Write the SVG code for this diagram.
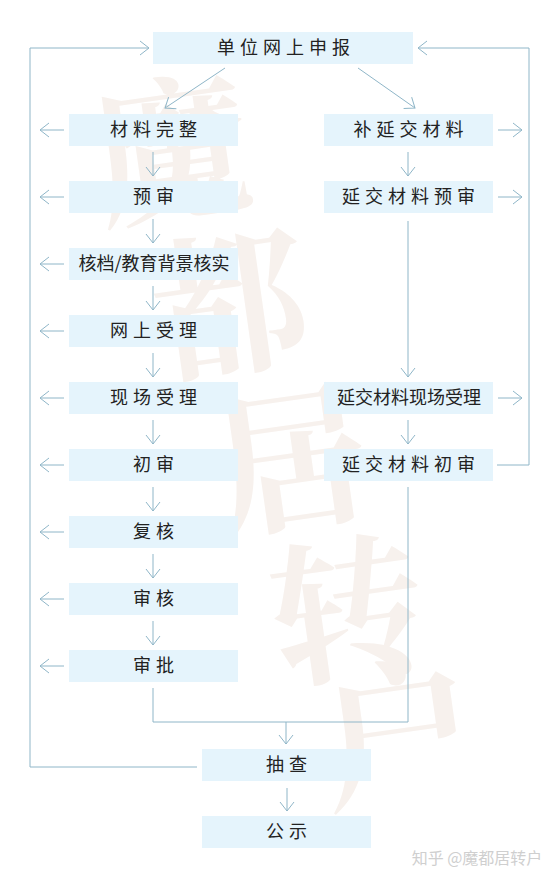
<svg xmlns="http://www.w3.org/2000/svg" width="557" height="882" viewBox="0 0 557 882">
<style>
.box{fill:#e5f4fc}
.t{font-family:"Noto Sans CJK SC","Noto Sans",sans-serif;font-size:18px;fill:#222;text-anchor:middle}
.sp{letter-spacing:5px}
.c path{fill:none;stroke:#8fb6c8;stroke-width:1}
.wm{font-family:"Noto Serif CJK SC","Noto Sans CJK SC",serif;font-size:155px;fill:#f7f1ed;font-weight:700}
</style>
<defs>
<marker id="ah" markerUnits="userSpaceOnUse" viewBox="-10 -8 12 16" refX="0" refY="0" markerWidth="12" markerHeight="16" orient="auto">
<path d="M-9,-7 L0,0 L-9,7" fill="none" stroke="#8fb6c8" stroke-width="1"/>
</marker>
</defs>
<rect width="557" height="882" fill="#fff"/>
<g id="watermark">
<text class="wm" x="92" y="208" transform="rotate(-8 170 140)">魔</text>
<text class="wm" x="152" y="362" transform="rotate(-8 230 300)">都</text>
<text class="wm" x="212" y="518" transform="rotate(-8 290 450)">居</text>
<text class="wm" x="268" y="668" transform="rotate(-8 345 600)">转</text>
<text class="wm" x="318" y="792" transform="rotate(-8 395 730)">户</text>
</g>
<g class="c" id="connectors">
<path d="M197,767 H30 V48 H149" marker-end="url(#ah)"/>
<path d="M497,465 H529 V48 H418" marker-end="url(#ah)"/>
<path d="M225,68 L165,108" marker-end="url(#ah)"/>
<path d="M358,68 L415,108" marker-end="url(#ah)"/>
<path d="M64,130 H40" marker-end="url(#ah)"/>
<path d="M64,197 H40" marker-end="url(#ah)"/>
<path d="M64,264 H40" marker-end="url(#ah)"/>
<path d="M64,331 H40" marker-end="url(#ah)"/>
<path d="M64,398 H40" marker-end="url(#ah)"/>
<path d="M64,465 H40" marker-end="url(#ah)"/>
<path d="M64,532 H40" marker-end="url(#ah)"/>
<path d="M64,599 H40" marker-end="url(#ah)"/>
<path d="M64,666 H40" marker-end="url(#ah)"/>
<path d="M153,152 V176" marker-end="url(#ah)"/>
<path d="M153,219 V243" marker-end="url(#ah)"/>
<path d="M153,286 V310" marker-end="url(#ah)"/>
<path d="M153,353 V377" marker-end="url(#ah)"/>
<path d="M153,420 V444" marker-end="url(#ah)"/>
<path d="M153,487 V511" marker-end="url(#ah)"/>
<path d="M153,554 V578" marker-end="url(#ah)"/>
<path d="M153,621 V645" marker-end="url(#ah)"/>
<path d="M498,130 H522" marker-end="url(#ah)"/>
<path d="M498,197 H522" marker-end="url(#ah)"/>
<path d="M498,398 H522" marker-end="url(#ah)"/>
<path d="M408,152 V176" marker-end="url(#ah)"/>
<path d="M408,221 V377" marker-end="url(#ah)"/>
<path d="M408,420 V444" marker-end="url(#ah)"/>
<path d="M153,688 V722 H408 V487"/>
<path d="M286,722 V744" marker-end="url(#ah)"/>
<path d="M287,788 V811" marker-end="url(#ah)"/>
</g>
<g id="n-top"><rect class="box" x="153" y="32" width="260" height="32"/><text class="t sp" x="286" y="54">单位网上申报</text></g>
<g id="n-l1"><rect class="box" x="69" y="114" width="169" height="32"/><text class="t sp" x="156" y="136">材料完整</text></g>
<g id="n-l2"><rect class="box" x="69" y="181" width="169" height="32"/><text class="t sp" x="156" y="203">预审</text></g>
<g id="n-l3"><rect class="box" x="69" y="248" width="169" height="32"/><text class="t" x="154" y="270">核档/教育背景核实</text></g>
<g id="n-l4"><rect class="box" x="69" y="315" width="169" height="32"/><text class="t sp" x="156" y="337">网上受理</text></g>
<g id="n-l5"><rect class="box" x="69" y="382" width="169" height="32"/><text class="t sp" x="156" y="404">现场受理</text></g>
<g id="n-l6"><rect class="box" x="69" y="449" width="169" height="32"/><text class="t sp" x="156" y="471">初审</text></g>
<g id="n-l7"><rect class="box" x="69" y="516" width="169" height="32"/><text class="t sp" x="156" y="538">复核</text></g>
<g id="n-l8"><rect class="box" x="69" y="583" width="169" height="32"/><text class="t sp" x="156" y="605">审核</text></g>
<g id="n-l9"><rect class="box" x="69" y="650" width="169" height="32"/><text class="t sp" x="156" y="672">审批</text></g>
<g id="n-r1"><rect class="box" x="324" y="114" width="169" height="32"/><text class="t sp" x="411" y="136">补延交材料</text></g>
<g id="n-r2"><rect class="box" x="324" y="181" width="169" height="32"/><text class="t sp" x="411" y="203">延交材料预审</text></g>
<g id="n-r3"><rect class="box" x="324" y="382" width="169" height="32"/><text class="t" x="409" y="404">延交材料现场受理</text></g>
<g id="n-r4"><rect class="box" x="324" y="449" width="169" height="32"/><text class="t sp" x="411" y="471">延交材料初审</text></g>
<g id="n-check"><rect class="box" x="202" y="749" width="169" height="32"/><text class="t sp" x="289" y="771">抽查</text></g>
<g id="n-pub"><rect class="box" x="202" y="816" width="169" height="32"/><text class="t sp" x="289" y="838">公示</text></g>
<text x="477" y="864" font-family="Noto Sans CJK SC,sans-serif" font-size="16" fill="#cfcfcf" text-anchor="middle">知乎 @魔都居转户</text>
</svg>
